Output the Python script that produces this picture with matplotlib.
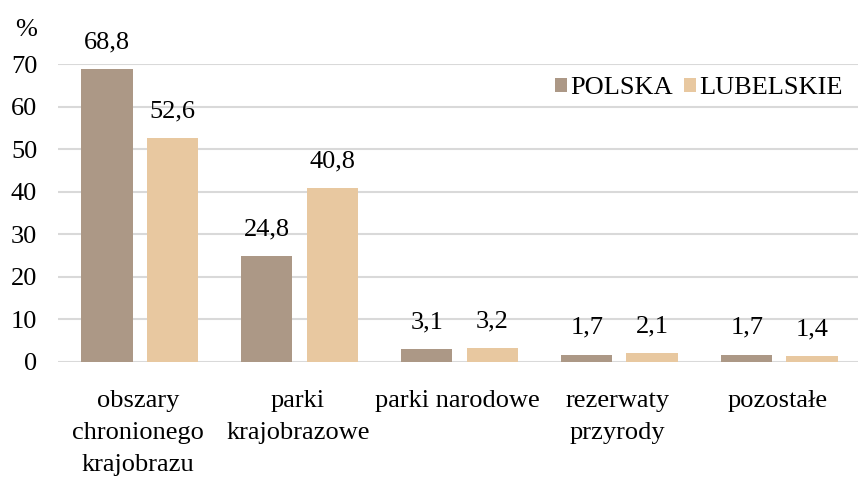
import numpy as np
import matplotlib.pyplot as plt

plt.rcParams['font.family'] = ['Liberation Serif', 'DejaVu Serif']

kategorie = ['obszary\nchronionego\nkrajobrazu', 'parki\nkrajobrazowe', 'parki narodowe',
             'rezerwaty\nprzyrody', 'pozostałe']
polska = [68.8, 24.8, 3.1, 1.7, 1.7]
lubelskie = [52.6, 40.8, 3.2, 2.1, 1.4]

kolor_pl = '#AC9886'
kolor_lub = '#E8C8A0'
fs = 19

fig = plt.figure(figsize=(8.6, 4.82), dpi=100)
ax = fig.add_axes([0.0674, 0.249, 0.93, 0.618])

x = np.arange(len(kategorie))
w = 0.32
off = 0.204
b1 = ax.bar(x - off + 0.01, polska, w, color=kolor_pl, label='POLSKA', zorder=3)
b2 = ax.bar(x + off + 0.01, lubelskie, w, color=kolor_lub, label='LUBELSKIE', zorder=3)

for bars, vals in [(b1, polska), (b2, lubelskie)]:
    for b, v in zip(bars, vals):
        ax.annotate(f'{v:.1f}'.replace('.', ','), (b.get_x() + b.get_width() / 2, v),
                    xytext=(0, 15), textcoords='offset points', ha='center', va='baseline',
                    fontsize=fs, annotation_clip=False)

ax.set_xlim(-0.5, 4.5)
ax.set_ylim(0, 70)
ax.set_yticks(range(0, 71, 10))
ax.yaxis.grid(True, color='#D9D9D9', linewidth=1.5, zorder=0)
ax.set_axisbelow(True)
for s in ax.spines.values():
    s.set_visible(False)
ax.tick_params(axis='both', length=0, labelsize=fs)
ax.tick_params(axis='y', pad=15)
ax.tick_params(axis='x', pad=20)
ax.set_xticks(x)
ax.set_xticklabels(kategorie, linespacing=1.6, va='top')

ax.text(-0.054, 1.114, '%', transform=ax.transAxes, fontsize=fs, ha='left', va='center')

ax.legend(loc='upper right', bbox_to_anchor=(0.985, 0.965), ncol=2, frameon=False, fontsize=fs,
          handlelength=0.45, handleheight=0.45, handletextpad=0.15, columnspacing=0.4,
          borderaxespad=0.0, borderpad=0.1)

fig.savefig('out.png', dpi=100)
